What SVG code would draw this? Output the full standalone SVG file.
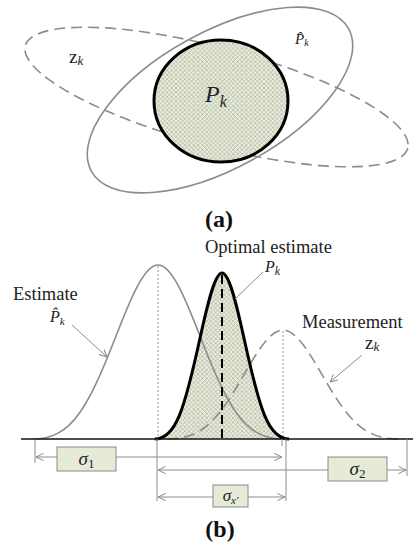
<svg xmlns="http://www.w3.org/2000/svg" width="414" height="547" viewBox="0 0 414 547">
<defs>
<pattern id="hatch" patternUnits="userSpaceOnUse" width="4.4" height="4.4">
<rect width="4.4" height="4.4" fill="#e8eed9"/>
<path d="M0,0 L4.4,4.4 M4.4,0 L0,4.4" stroke="#aeb2a6" stroke-width="0.7"/>
</pattern>
<marker id="arr" viewBox="0 0 10 10" refX="9.5" refY="5" markerWidth="8" markerHeight="8" markerUnits="userSpaceOnUse" orient="auto-start-reverse">
<path d="M0,0.5 L9.5,5 L0,9.5" fill="none" stroke="#888" stroke-width="1.2"/>
</marker>
</defs>
<style>
.gray{fill:none;stroke:#8c8c8c;stroke-width:1.6}
.dash{stroke-dasharray:11 6}
.thin{fill:none;stroke:#8c8c8c;stroke-width:1}
.dot{fill:none;stroke:#777;stroke-width:0.8;stroke-dasharray:2 2}
.lbl{font-family:"Liberation Serif",serif;fill:#222}
.it{font-style:italic}
.box{fill:#e6ebd7;stroke:#8a8a8a;stroke-width:1}
.cap{font-family:"Liberation Serif",serif;font-weight:bold;font-size:24px;fill:#111;text-anchor:middle}
</style>
<rect width="414" height="547" fill="#fff"/>

<!-- (a) -->
<g id="zk-ellipse"><ellipse class="gray dash" cx="216.5" cy="97" rx="198" ry="49" transform="rotate(15 216.5 97)"/></g>
<g id="phat-ellipse"><ellipse class="gray" cx="220" cy="100" rx="147" ry="68" transform="rotate(-29 220 100)"/></g>
<g id="pk-circle">
<ellipse cx="221" cy="101" rx="67" ry="61" fill="url(#hatch)" stroke="#000" stroke-width="3"/>
<text class="lbl it" x="205" y="102" font-size="24">P<tspan font-size="16" dy="5">k</tspan></text>
</g>
<g id="label-zk"><text class="lbl" x="69" y="63" font-size="19">z<tspan class="it" font-size="13" dy="2">k</tspan></text></g>
<g id="label-phat"><text class="lbl it" x="295" y="44" font-size="15">P̂<tspan font-size="10" dy="2">k</tspan></text></g>
<g id="caption-a"><text class="cap" x="219" y="227">(a)</text></g>

<!-- (b) -->
<g id="optimal-curve">
<path d="M154.9,439 C175.8,439 184.6,408.8 200,338.3 C207.3,304.8 214.7,273 222,273 C229.3,273 236.7,304.8 244,338.3 C259.4,408.8 268.2,439 289.1,439 Z" fill="url(#hatch)" stroke="none"/>
</g>
<g id="estimate-curve">
<path class="gray" d="M33,439 C71.9,439 88.3,407.3 117,333.5 C130.7,298.3 144.3,265 158,265 C171.7,265 185.3,298.3 199,333.5 C227.7,407.3 244.1,439 283,439"/>
<line class="dot" x1="158" y1="266" x2="158" y2="439"/>
</g>
<g id="measurement-curve">
<path class="gray dash" d="M167.1,439 C203.2,439 218.4,419.2 245,372.9 C257.7,350.9 270.3,330 283,330 C295.7,330 308.3,350.9 321,372.9 C347.6,419.2 362.8,439 398.9,439"/>
<line class="dot" x1="283" y1="331" x2="283" y2="439"/>
</g>
<g id="optimal-outline">
<path d="M154.9,439 C175.8,439 184.6,408.8 200,338.3 C207.3,304.8 214.7,273 222,273 C229.3,273 236.7,304.8 244,338.3 C259.4,408.8 268.2,439 289.1,439" fill="none" stroke="#000" stroke-width="3"/>
<line x1="222" y1="275" x2="222" y2="439" stroke="#000" stroke-width="2" stroke-dasharray="9 5"/>
</g>
<g id="axis"><line x1="21" y1="439" x2="413" y2="439" stroke="#111" stroke-width="1.6"/></g>

<g id="connectors">
<line class="thin" x1="72" y1="325" x2="107" y2="357" marker-end="url(#arr)"/>
<line class="thin" x1="263" y1="272" x2="235" y2="299"/>
<line class="thin" x1="362" y1="355" x2="330" y2="382" marker-end="url(#arr)"/>
<line class="thin" x1="35" y1="439" x2="35" y2="463"/>
<line class="thin" x1="407" y1="439" x2="407" y2="476"/>
<line class="thin" x1="157" y1="439" x2="157" y2="501"/>
<line class="thin" x1="286" y1="439" x2="286" y2="501"/>
<line class="thin" x1="282" y1="439" x2="282" y2="446"/>
<line class="thin" x1="36" y1="457" x2="282" y2="457" marker-start="url(#arr)" marker-end="url(#arr)"/>
<line class="thin" x1="158" y1="470" x2="406" y2="470" marker-start="url(#arr)" marker-end="url(#arr)"/>
<line class="thin" x1="158" y1="497" x2="285" y2="497" marker-start="url(#arr)" marker-end="url(#arr)"/>
</g>

<g id="label-optimal">
<text class="lbl" x="205" y="253" font-size="18.5">Optimal estimate</text>
<text class="lbl it" x="265" y="272" font-size="16">P<tspan font-size="12" dy="3">k</tspan></text>
</g>
<g id="label-estimate">
<text class="lbl" x="13" y="300" font-size="18.5">Estimate</text>
<text class="lbl it" x="50" y="322" font-size="16">P̂<tspan font-size="11" dy="3">k</tspan></text>
</g>
<g id="label-measurement">
<text class="lbl" x="302" y="328" font-size="18.5">Measurement</text>
<text class="lbl" x="365" y="349" font-size="19">z<tspan class="it" font-size="13" dy="2">k</tspan></text>
</g>

<g id="box-sigma1">
<rect class="box" x="57" y="447" width="59" height="24"/>
<text class="lbl" x="86.5" y="465" font-size="19" text-anchor="middle"><tspan class="it">σ</tspan><tspan font-size="13" dy="3">1</tspan></text>
</g>
<g id="box-sigma2">
<rect class="box" x="328" y="457" width="59" height="24"/>
<text class="lbl" x="357.5" y="475" font-size="19" text-anchor="middle"><tspan class="it">σ</tspan><tspan font-size="13" dy="3">2</tspan></text>
</g>
<g id="box-sigmax">
<rect class="box" x="213" y="485" width="35" height="22"/>
<text class="lbl it" x="230.5" y="501" font-size="17" text-anchor="middle">σ<tspan font-size="11" dy="3">x′</tspan></text>
</g>
<g id="caption-b"><text class="cap" x="220" y="537">(b)</text></g>
</svg>
